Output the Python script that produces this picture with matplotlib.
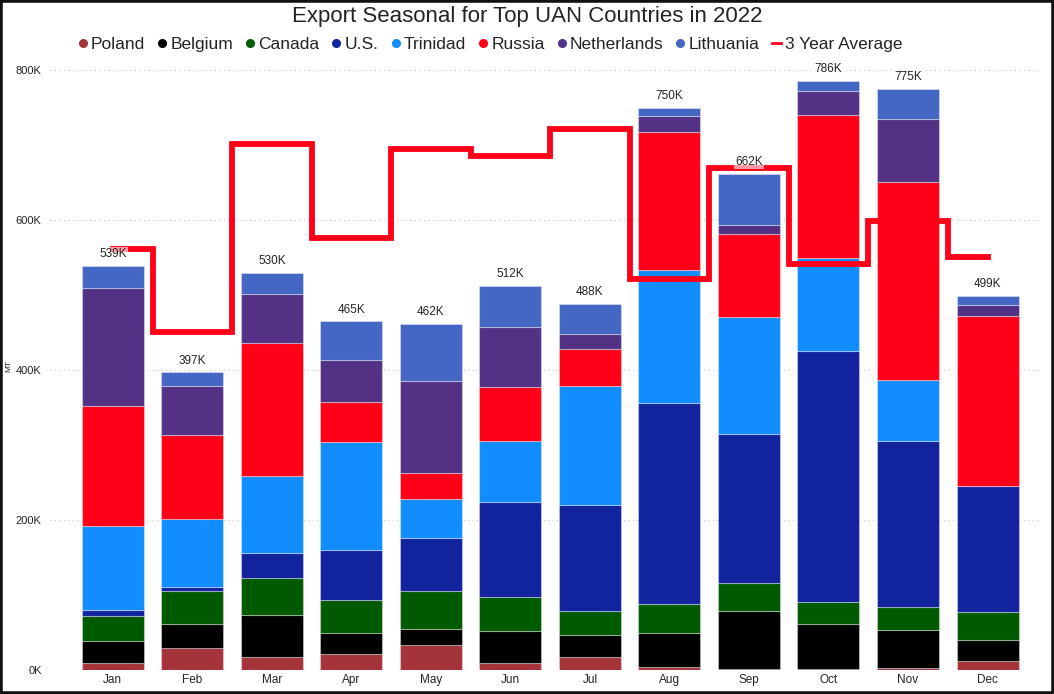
import matplotlib
matplotlib.use("Agg")
import matplotlib.pyplot as plt
import numpy as np
from matplotlib.lines import Line2D
from matplotlib.patches import Rectangle

plt.rcParams['font.family'] = ['Liberation Sans', 'DejaVu Sans']

months = ["Jan", "Feb", "Mar", "Apr", "May", "Jun", "Jul", "Aug", "Sep", "Oct", "Nov", "Dec"]

# values in thousands of MT
poland      = [9, 30, 17, 21, 34, 9, 17, 4, 1, 1, 3, 12]
belgium     = [30, 32, 56, 28, 21, 43, 30, 46, 78, 61, 50, 28]
canada      = [33, 43, 50, 45, 50, 46, 32, 38, 37, 29, 31, 37]
us          = [8, 6, 33, 66, 71, 126, 141, 268, 199, 335, 222, 168]
trinidad    = [112, 90, 103, 144, 52, 82, 159, 178, 156, 124, 81, 0]
russia      = [160, 112, 177, 53, 35, 72, 49, 183, 111, 190, 264, 227]
netherlands = [158, 66, 66, 57, 122, 79, 20, 22, 12, 32, 84, 15]
lithuania   = [29, 18, 28, 51, 77, 55, 40, 11, 68, 14, 40, 12]
avg3yr      = [561, 451, 701, 576, 695, 685, 722, 522, 670, 541, 599, 551]

series_names = ["Poland", "Belgium", "Canada", "U.S.", "Trinidad", "Russia", "Netherlands", "Lithuania"]
series_vals = [poland, belgium, canada, us, trinidad, russia, netherlands, lithuania]
colors = ["#A4343A", "#000000", "#005A00", "#12239E", "#118DFF", "#FF0018", "#533285", "#4467C4"]
line_color = "#FF0018"

fig = plt.figure(figsize=(10.54, 6.94), dpi=100)
ax = fig.add_axes([50/1054, 24/694, 990/1054, 608/694])

x = np.arange(len(months))
bottom = np.zeros(len(months))
for name, vals, c in zip(series_names, series_vals, colors):
    v = np.array(vals, dtype=float)
    ax.bar(x, v, bottom=bottom, width=0.78, color=c, edgecolor=(1, 1, 1, 0.35),
           linewidth=0.8, zorder=2)
    bottom += v

totals = bottom
ax.plot(x, avg3yr, drawstyle="steps-mid", color=line_color, linewidth=4.2,
        solid_joinstyle="miter", zorder=3)

for xi, t in zip(x, totals):
    ax.annotate(f"{int(round(t))}K", (xi, t), xytext=(0, 4), textcoords="offset points",
                ha="center", va="bottom", fontsize=8.5, color="#252423", zorder=4,
                bbox=dict(boxstyle="square,pad=0.1", fc="white", ec="none", alpha=0.6))

ax.set_xlim(-0.79, 11.66)
ax.set_ylim(0, 810.7)
ax.set_yticks([0, 200, 400, 600, 800])
ax.set_yticklabels(["0K", "200K", "400K", "600K", "800K"], fontsize=8, color="#252423")
ax.set_xticks(x)
ax.set_xticklabels(months, fontsize=8.5, color="#252423")
ax.tick_params(axis="both", length=0, pad=3)
ax.tick_params(axis="y", pad=6)
ax.set_ylabel("MT", fontsize=6, color="#252423")
ax.yaxis.set_label_coords(-0.038, 0.5)
ax.grid(axis="y", linestyle=(0, (1, 3)), color="#C8C6C4", linewidth=0.8, zorder=0)
ax.set_axisbelow(True)
for s in ax.spines.values():
    s.set_visible(False)

fig.text(0.5, 0.992, "Export Seasonal for Top UAN Countries in 2022", ha="center", va="top",
         fontsize=16, color="#252423")

handles = [Line2D([0], [0], marker="o", linestyle="none", markersize=5.5,
                  markerfacecolor=c, markeredgecolor=c) for c in colors]
handles.append(Line2D([0], [0], color=line_color, linewidth=2))
labels = series_names + ["3 Year Average"]
fig.legend(handles, labels, loc="center", bbox_to_anchor=(0.465, 0.936), ncol=9,
           frameon=False, fontsize=12.5, handlelength=0.55, handletextpad=0.2,
           columnspacing=0.7, labelcolor="#252423")

fig.patches.append(Rectangle((0, 0), 1, 1, transform=fig.transFigure, fill=False,
                             edgecolor="#111111", linewidth=4, zorder=10))

fig.savefig("out.png", dpi=100)
